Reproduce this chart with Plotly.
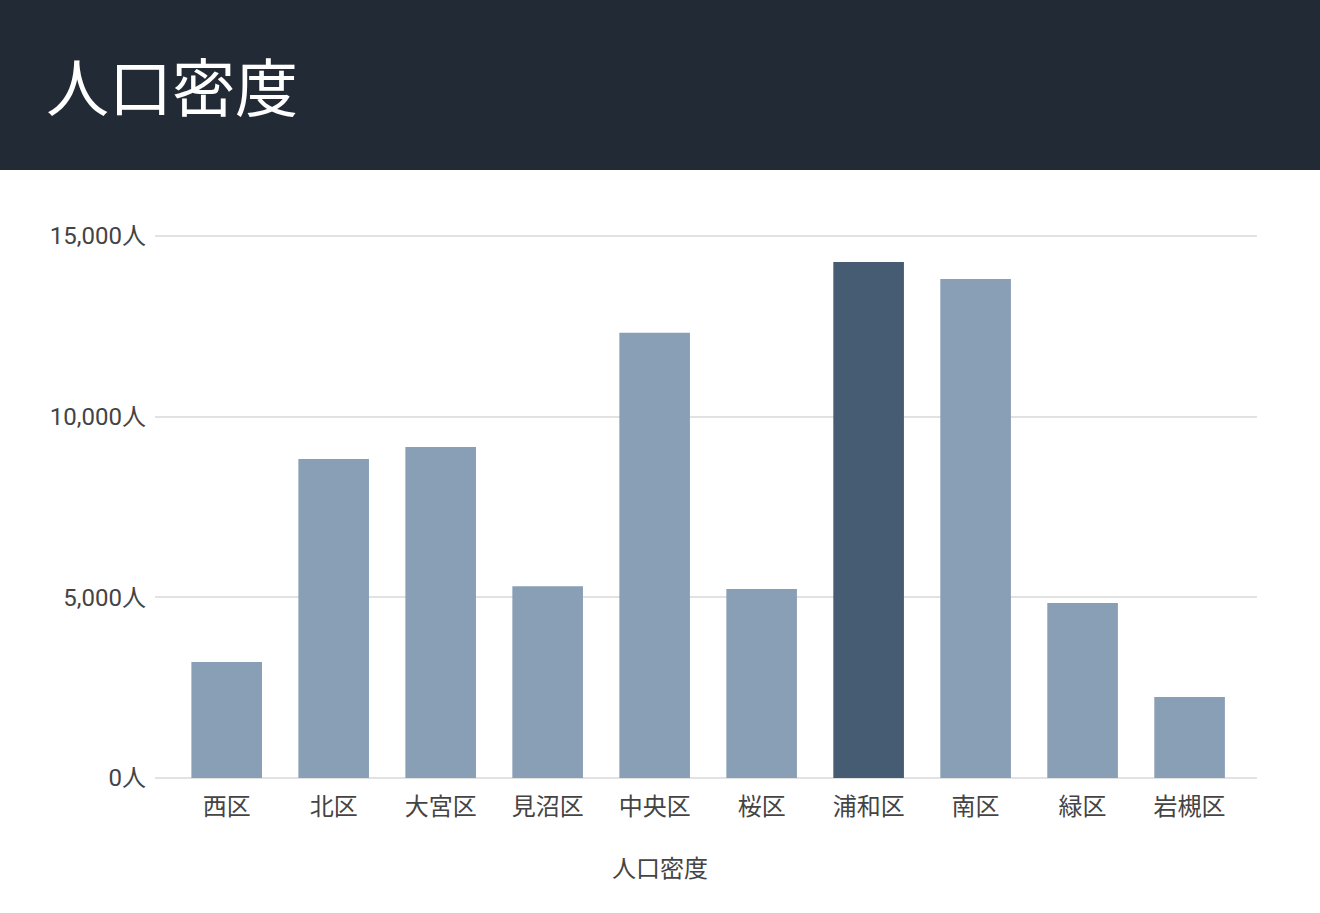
import plotly.graph_objects as go

# ---- data
wards = ["西区", "北区", "大宮区", "見沼区", "中央区", "桜区", "浦和区", "南区", "緑区", "岩槻区"]
density = [3210, 8830, 9160, 5310, 12320, 5230, 14280, 13810, 4840, 2240]
highlight = "浦和区"
y_ticks = [0, 5000, 10000, 15000]
y_tick_text = ["{:,}人".format(v) for v in y_ticks]

light = "#899fb6"
dark = "#465c73"
header_bg = "#212a35"
font_family = "Roboto, 'Noto Sans CJK JP', sans-serif"

colors = [dark if w == highlight else light for w in wards]

fig = go.Figure(go.Bar(
	x = wards,
	y = density,
	marker_color = colors,
	marker_line_width = 0,
	width = 0.66,
	hovertemplate = "%{x}: %{y:,}人<extra></extra>",
))

W, H = 1320, 913
ml, mr, mt, mb = 155, 63, 232, 135
plot_w = W - ml - mr
plot_h = H - mt - mb
# little headroom so the 15,000 gridline is not at the very edge
y_top = 15000 * plot_h / (778 - 236)

# ---- dark header band across the top
fig.add_shape(
	type = "rect",
	xref = "paper", yref = "paper",
	x0 = -ml / plot_w, x1 = (W - ml) / plot_w,
	y0 = (plot_h + mt - 170) / plot_h, y1 = (plot_h + mt) / plot_h,
	fillcolor = header_bg,
	line_width = 0,
	layer = "below",
)
fig.add_annotation(
	text = "人口密度",
	xref = "paper", yref = "paper",
	x = (44 - ml) / plot_w, y = (plot_h + mt - 83) / plot_h,
	xanchor = "left", yanchor = "middle",
	showarrow = False,
	font = dict(family = "'Noto Sans CJK JP'", size = 63, color = "white"),
)
# ---- x axis title, centred on the whole figure
fig.add_annotation(
	text = "人口密度",
	xref = "paper", yref = "paper",
	x = (W / 2 - ml) / plot_w, y = -(869 - 778) / plot_h,
	xanchor = "center", yanchor = "middle",
	showarrow = False,
	font = dict(size = 24, color = "#444444"),
)

fig.update_layout(
	width = W,
	height = H,
	margin = dict(l = ml, r = mr, t = mt, b = mb),
	paper_bgcolor = "white",
	plot_bgcolor = "white",
	showlegend = False,
	font = dict(family = font_family, color = "#444444"),
	xaxis = dict(
		range = [-0.67, 9.63],
		showgrid = False,
		showline = False,
		ticks = "",
		ticklabelstandoff = 12,
		tickfont = dict(size = 24, color = "#444444"),
	),
	yaxis = dict(
		range = [0, y_top],
		tickvals = y_ticks,
		ticktext = y_tick_text,
		showgrid = True,
		gridcolor = "#e2e2e2",
		gridwidth = 1.5,
		zeroline = True,
		zerolinecolor = "#e2e2e2",
		zerolinewidth = 1.5,
		ticks = "",
		ticklabelstandoff = 8,
		tickfont = dict(size = 24, color = "#444444"),
	),
)

fig.write_html(
	"out.html",
	config = {"displayModeBar": False},
	post_script = "document.body.style.margin = '0';",
)
